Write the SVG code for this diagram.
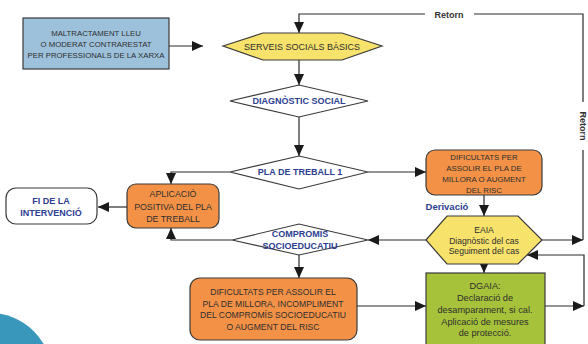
<svg xmlns="http://www.w3.org/2000/svg" width="588" height="344" viewBox="0 0 588 344">
<defs>
<marker id="ah" markerUnits="userSpaceOnUse" markerWidth="11" markerHeight="10" refX="11" refY="5" orient="auto">
<path d="M0,0 L11,5 L0,10 z" fill="#1a1a1a"/>
</marker>
<style>
.ln{fill:none;stroke:#2a2a2a;stroke-width:1.2}
.shp{stroke:#3a3a3a;stroke-width:1.2}
.t{font-family:"Liberation Sans",Arial,sans-serif;font-size:8.3px;fill:#2e2e2e;text-anchor:middle}
.b{font-family:"Liberation Sans",Arial,sans-serif;font-size:9px;font-weight:bold;fill:#2d3e92;text-anchor:middle}
.r{font-family:"Liberation Sans",Arial,sans-serif;font-size:9px;font-weight:bold;fill:#333;text-anchor:middle}
</style>
</defs>
<rect width="588" height="344" fill="#fff"/>
<circle cx="-10" cy="375" r="62" fill="#3a97bc"/>

<g id="connectors">
<path class="ln" d="M169,46 H203" marker-end="url(#ah)"/>
<path class="ln" d="M583,240 V150 M583,102 V14 H474 M425,14 H299 V33" marker-end="url(#ah)"/>
<path class="ln" d="M299,60 V85" marker-end="url(#ah)"/>
<path class="ln" d="M299,117 V156" marker-end="url(#ah)"/>
<path class="ln" d="M230,172 H171 V184" marker-end="url(#ah)"/>
<path class="ln" d="M127,207 H98" marker-end="url(#ah)"/>
<path class="ln" d="M232,240 H171 V228" marker-end="url(#ah)"/>
<path class="ln" d="M368,172 H426" marker-end="url(#ah)"/>
<path class="ln" d="M484,195 V216" marker-end="url(#ah)"/>
<path class="ln" d="M426,240 H368" marker-end="url(#ah)"/>
<path class="ln" d="M542,240 H583" marker-end="url(#ah)"/>
<path class="ln" d="M299,255 V278" marker-end="url(#ah)"/>
<path class="ln" d="M484,264 V273" marker-end="url(#ah)"/>
<path class="ln" d="M357,306 H426" marker-end="url(#ah)"/>
<path class="ln" d="M545,306 H584" marker-end="url(#ah)"/>
<path class="ln" d="M584,306 V255 H527" marker-end="url(#ah)"/>
<text class="r" x="449" y="17.5">Retorn</text>
<text class="r" transform="translate(580,126) rotate(90)" x="0" y="0">Retorn</text>
<text class="b" x="447" y="210" style="font-size:9.5px">Derivació</text>
</g>

<g id="maltractament">
<rect class="shp" x="23" y="18" width="146" height="51" fill="#9dc1db"/>
<text class="t" x="96" y="36" style="font-size:7.8px">MALTRACTAMENT LLEU</text>
<text class="t" x="96" y="47" style="font-size:7.8px">O MODERAT CONTRARESTAT</text>
<text class="t" x="96" y="58" style="font-size:7.8px">PER PROFESSIONALS DE LA XARXA</text>
</g>

<g id="serveis">
<polygon class="shp" points="223,46 263,33 342,33 382,46 342,60 263,60" fill="#f7e26b"/>
<text class="t" x="302" y="49.5" style="font-size:9px">SERVEIS SOCIALS BÀSICS</text>
</g>

<g id="diagnostic">
<polygon class="shp" points="230,101 299,85 368,101 299,117" fill="#fff"/>
<text class="b" x="299" y="104">DIAGNÒSTIC SOCIAL</text>
</g>

<g id="pla">
<polygon class="shp" points="230,172 299,156 368,172 299,189" fill="#fff"/>
<text class="b" x="300" y="175">PLA DE TREBALL 1</text>
</g>

<g id="aplicacio">
<rect class="shp" x="127" y="184" width="92" height="44" rx="9" fill="#f39247"/>
<text class="t" x="173" y="197" style="font-size:8.8px">APLICACIÓ</text>
<text class="t" x="173" y="210" style="font-size:8.8px">POSITIVA DEL PLA</text>
<text class="t" x="173" y="222" style="font-size:8.8px">DE TREBALL</text>
</g>

<g id="fi">
<rect class="shp" x="6" y="188" width="91" height="36" rx="10" fill="#fff"/>
<text class="b" x="51" y="204">FI DE LA</text>
<text class="b" x="51" y="216">INTERVENCIÓ</text>
</g>

<g id="dificultats1">
<rect class="shp" x="426" y="150" width="116" height="45" rx="9" fill="#f39247"/>
<text class="t" x="484" y="159.5" style="font-size:7.9px">DIFICULTATS PER</text>
<text class="t" x="484" y="170.5" style="font-size:7.9px">ASSOLIR EL PLA DE</text>
<text class="t" x="484" y="181.5" style="font-size:7.9px">MILLORA O AUGMENT</text>
<text class="t" x="484" y="192.5" style="font-size:7.9px">DEL RISC</text>
</g>

<g id="eaia">
<polygon class="shp" points="426,240 447,216 518,216 542,240 518,264 447,264" fill="#f7e26b"/>
<text class="t" x="484" y="233" style="font-size:8.6px">EAIA</text>
<text class="t" x="484" y="243.5" style="font-size:8.6px">Diagnòstic del cas</text>
<text class="t" x="484" y="254" style="font-size:8.6px">Seguiment del cas</text>
</g>

<g id="compromis">
<polygon class="shp" points="232,240 299,224 368,240 299,255" fill="#fff"/>
<text class="b" x="300" y="237">COMPROMÍS</text>
<text class="b" x="300" y="248.5">SOCIOEDUCATIU</text>
</g>

<g id="dificultats2">
<rect class="shp" x="190" y="278" width="167" height="62" rx="10" fill="#f39247"/>
<text class="t" x="273" y="295" style="font-size:8.6px">DIFICULTATS PER ASSOLIR EL</text>
<text class="t" x="273" y="306.5" style="font-size:8.6px">PLA DE MILLORA, INCOMPLIMENT</text>
<text class="t" x="273" y="318" style="font-size:8.6px">DEL COMPROMÍS SOCIOEDUCATIU</text>
<text class="t" x="273" y="330" style="font-size:8.6px">O AUGMENT DEL RISC</text>
</g>

<g id="dgaia">
<rect class="shp" x="426" y="273" width="119" height="80" fill="#a6c23a"/>
<text class="t" x="485" y="288.5" style="font-size:9.2px">DGAIA:</text>
<text class="t" x="485" y="300.5" style="font-size:9.2px">Declaració de</text>
<text class="t" x="485" y="312.5" style="font-size:9.2px">desamparament, si cal.</text>
<text class="t" x="485" y="324.5" style="font-size:9.2px">Aplicació de mesures</text>
<text class="t" x="485" y="336" style="font-size:9.2px">de protecció.</text>
</g>
</svg>
